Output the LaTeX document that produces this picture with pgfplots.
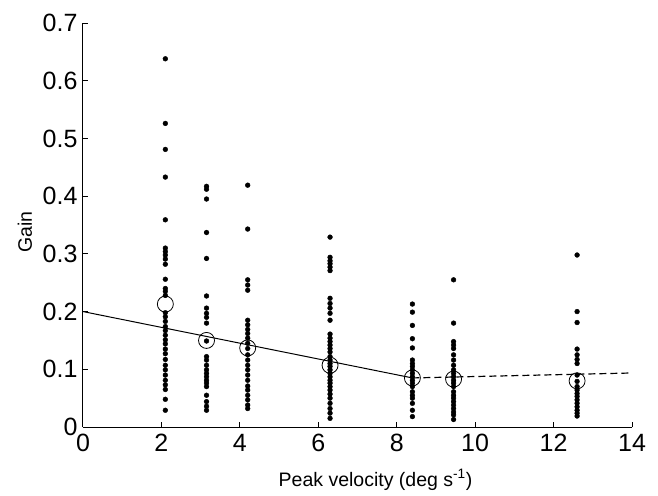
\documentclass[border=0pt]{standalone}
\usepackage{pgfplots}
\pgfplotsset{compat=1.18}
\usepackage{fontspec}
\setmainfont{Liberation Sans}

% individual gain values per stimulus velocity
\pgfplotstableread{
x y
2.1 0.638
2.1 0.526
2.1 0.481
2.1 0.433
2.1 0.359
2.1 0.310
2.1 0.304
2.1 0.298
2.1 0.291
2.1 0.282
2.1 0.256
2.1 0.240
2.1 0.235
2.1 0.228
2.1 0.198
2.1 0.191
2.1 0.183
2.1 0.174
2.1 0.167
2.1 0.159
2.1 0.151
2.1 0.144
2.1 0.135
2.1 0.127
2.1 0.117
2.1 0.107
2.1 0.099
2.1 0.090
2.1 0.081
2.1 0.073
2.1 0.065
2.1 0.048
2.1 0.029
3.15 0.417
3.15 0.412
3.15 0.395
3.15 0.337
3.15 0.292
3.15 0.227
3.15 0.206
3.15 0.197
3.15 0.190
3.15 0.180
3.15 0.149
3.15 0.122
3.15 0.116
3.15 0.107
3.15 0.099
3.15 0.093
3.15 0.087
3.15 0.081
3.15 0.076
3.15 0.070
3.15 0.055
3.15 0.044
3.15 0.036
3.15 0.029
4.2 0.419
4.2 0.343
4.2 0.255
4.2 0.246
4.2 0.237
4.2 0.185
4.2 0.177
4.2 0.169
4.2 0.162
4.2 0.154
4.2 0.145
4.2 0.136
4.2 0.125
4.2 0.116
4.2 0.107
4.2 0.099
4.2 0.090
4.2 0.081
4.2 0.071
4.2 0.064
4.2 0.055
4.2 0.047
4.2 0.038
4.2 0.032
6.3 0.329
6.3 0.294
6.3 0.288
6.3 0.283
6.3 0.277
6.3 0.271
6.3 0.223
6.3 0.214
6.3 0.206
6.3 0.197
6.3 0.185
6.3 0.161
6.3 0.154
6.3 0.148
6.3 0.142
6.3 0.136
6.3 0.130
6.3 0.122
6.3 0.116
6.3 0.110
6.3 0.105
6.3 0.099
6.3 0.093
6.3 0.087
6.3 0.081
6.3 0.076
6.3 0.070
6.3 0.064
6.3 0.057
6.3 0.050
6.3 0.041
6.3 0.032
6.3 0.024
6.3 0.015
8.4 0.213
8.4 0.199
8.4 0.176
8.4 0.153
8.4 0.137
8.4 0.116
8.4 0.110
8.4 0.105
8.4 0.099
8.4 0.093
8.4 0.087
8.4 0.081
8.4 0.076
8.4 0.070
8.4 0.061
8.4 0.055
8.4 0.050
8.4 0.041
8.4 0.029
8.4 0.018
9.45 0.255
9.45 0.180
9.45 0.148
9.45 0.142
9.45 0.136
9.45 0.125
9.45 0.116
9.45 0.107
9.45 0.099
9.45 0.093
9.45 0.087
9.45 0.081
9.45 0.076
9.45 0.070
9.45 0.061
9.45 0.055
9.45 0.050
9.45 0.044
9.45 0.038
9.45 0.032
9.45 0.026
9.45 0.021
9.45 0.013
12.6 0.298
12.6 0.200
12.6 0.181
12.6 0.135
12.6 0.125
12.6 0.117
12.6 0.110
12.6 0.090
12.6 0.079
12.6 0.070
12.6 0.064
12.6 0.058
12.6 0.053
12.6 0.047
12.6 0.041
12.6 0.035
12.6 0.029
12.6 0.024
12.6 0.019
}\gaindata

% mean gain per velocity
\pgfplotstableread{
x y
2.1 0.213
3.15 0.150
4.2 0.137
6.3 0.107
8.4 0.085
9.45 0.083
12.6 0.080
}\meandata

\begin{document}
\begin{tikzpicture}
\useasboundingbox (-83pt,-68pt) rectangle (575pt,427pt);
\begin{axis}[
  at={(0,0)}, anchor=south west,
  scale only axis, width=549pt, height=404pt,
  xmin=0, xmax=14, ymin=0, ymax=0.7,
  axis x line*=bottom, axis y line*=left,
  axis line style={line width=1pt},
  tick align=inside, major tick length=5pt,
  tick style={line width=1pt, black},
  xtick={0,2,4,6,8,10,12,14},
  ytick={0,0.1,0.2,0.3,0.4,0.5,0.6,0.7},
  yticklabel style={/pgf/number format/fixed, /pgf/number format/precision=1},
  tick label style={font=\fontsize{25}{30}\selectfont},
  /pgf/number format/assume math mode=true,
  xticklabel style={yshift=-4pt},
  yticklabel style={xshift=-2pt},
  xlabel={Peak velocity (deg s\textsuperscript{-1})},
  ylabel={Gain},
  every axis x label/.style={at={(axis description cs:0.5,0)}, xshift=18pt, yshift=-53pt, anchor=center, font=\fontsize{19.5}{23}\selectfont},
  every axis y label/.style={at={(axis description cs:0,0.483)}, xshift=-58pt, rotate=90, anchor=center, font=\fontsize{19.5}{23}\selectfont},
  clip=false,
]
\addplot[black, line width=1pt] coordinates {(0,0.2) (8.4,0.085)};
\addplot[black, line width=1.2pt, dash pattern=on 7pt off 4pt] coordinates {(8.4,0.085) (14,0.0936)};
\addplot[only marks, mark=*, mark size=2.4pt, black] table[x=x,y=y] {\gaindata};
\addplot[only marks, mark=o, mark size=8pt, black, mark options={line width=0.8pt}] table[x=x,y=y] {\meandata};
\end{axis}
\end{tikzpicture}
\end{document}
